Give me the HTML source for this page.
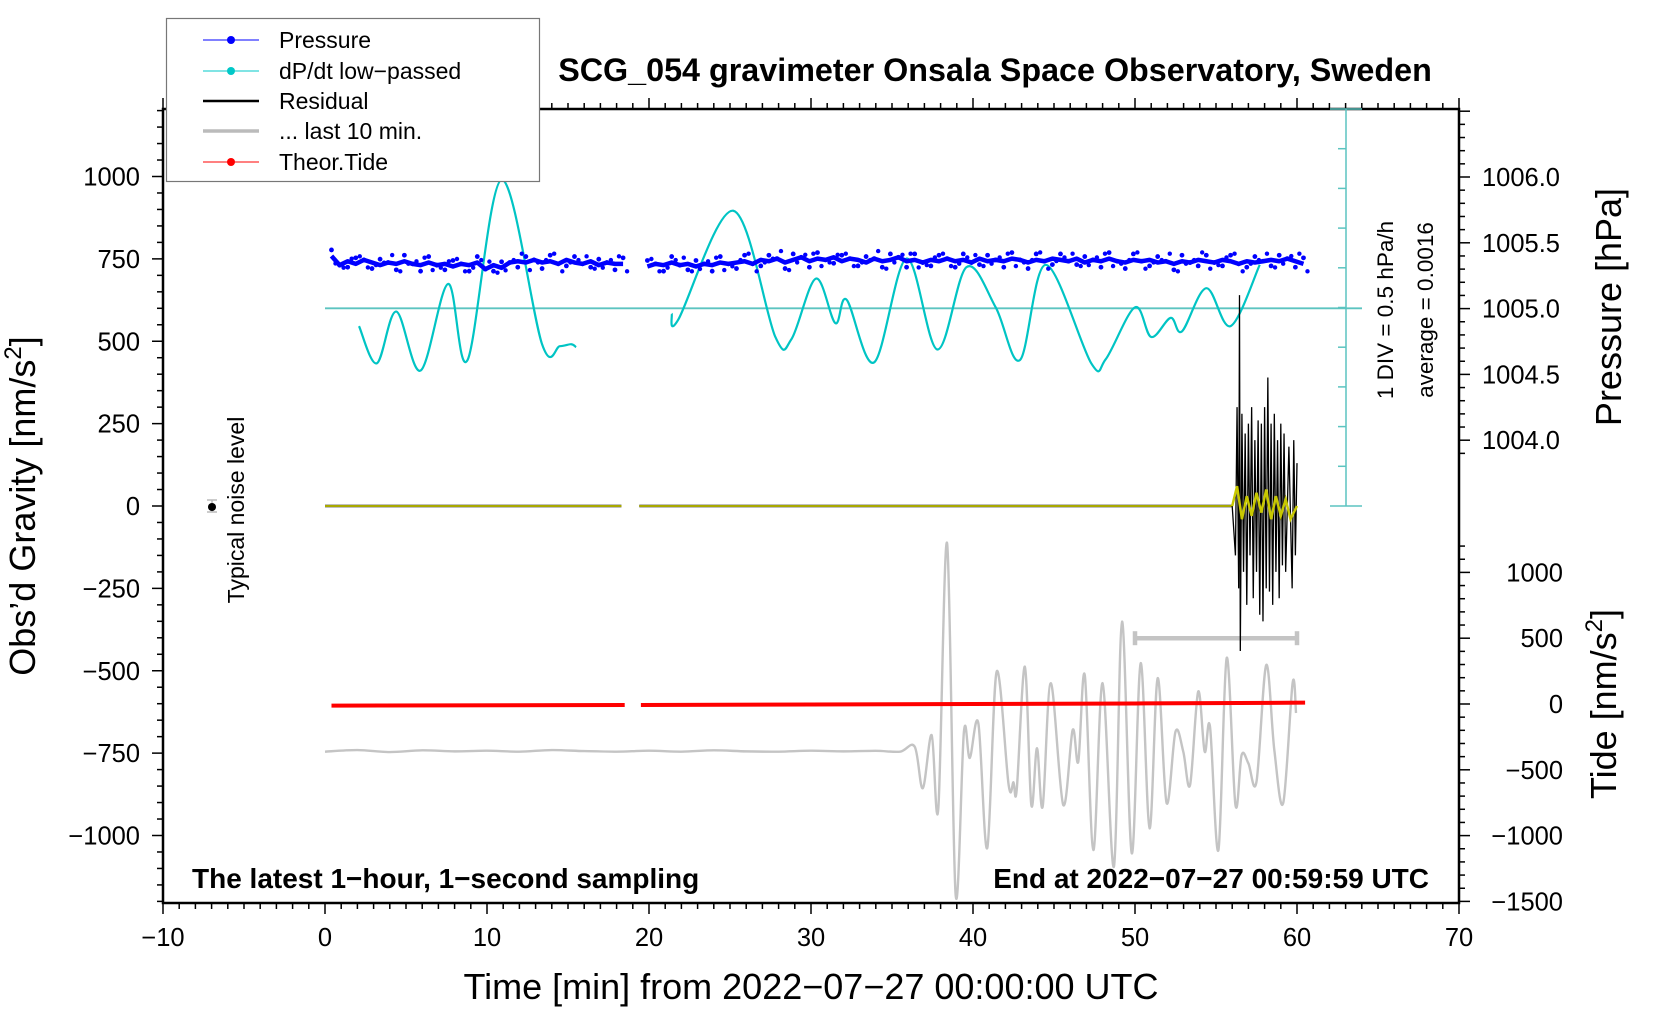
<!DOCTYPE html>
<html><head><meta charset="utf-8"><style>
html,body{margin:0;padding:0;background:#fff;}
svg{display:block;font-family:"Liberation Sans",sans-serif;}
</style></head><body>
<svg id="chart" width="1660" height="1020" viewBox="0 0 1660 1020">
<g id="plot"></g>
<text x="995" y="81" font-size="32.3" font-weight="bold" text-anchor="middle">SCG_054 gravimeter Onsala Space Observatory, Sweden</text>
<text x="192" y="888" font-size="28" font-weight="bold">The latest 1−hour, 1−second sampling</text>
<text x="1429" y="888" font-size="28" font-weight="bold" text-anchor="end">End at 2022−07−27 00:59:59 UTC</text>
<text x="811" y="999" font-size="36" text-anchor="middle">Time [min] from 2022−07−27 00:00:00 UTC</text>
<text transform="translate(35,506) rotate(-90)" font-size="36" text-anchor="middle">Obs’d Gravity [nm/s<tspan dy="-14" font-size="24">2</tspan><tspan dy="14">]</tspan></text>
<text transform="translate(1621,307) rotate(-90)" font-size="36" text-anchor="middle">Pressure [hPa]</text>
<text transform="translate(1616,704) rotate(-90)" font-size="36" text-anchor="middle">Tide [nm/s<tspan dy="-14" font-size="24">2</tspan><tspan dy="14">]</tspan></text>
<text transform="translate(244,510) rotate(-90)" font-size="23" text-anchor="middle">Typical noise level</text>
<text transform="translate(1393,310) rotate(-90)" font-size="22.5" text-anchor="middle">1 DIV = 0.5 hPa/h</text>
<text transform="translate(1433,310) rotate(-90)" font-size="22.5" text-anchor="middle">average = 0.0016</text>
<g>
<rect x="166.5" y="18.5" width="373" height="163" fill="#fff" stroke="#777" stroke-width="1.2"/>
<g><line x1="203" y1="40" x2="259" y2="40" stroke="#00f" stroke-width="1"/><circle cx="231" cy="40" r="4" fill="#00f"/><text x="279" y="48" font-size="23">Pressure</text></g>
<g><line x1="203" y1="71" x2="259" y2="71" stroke="#00c8c8" stroke-width="1"/><circle cx="231" cy="71" r="4" fill="#00c8c8"/><text x="279" y="79" font-size="23">dP/dt low−passed</text></g>
<g><line x1="203" y1="101" x2="259" y2="101" stroke="#000" stroke-width="2.5"/><text x="279" y="109" font-size="23">Residual</text></g>
<g><line x1="203" y1="131" x2="259" y2="131" stroke="#bbb" stroke-width="3.5"/><text x="279" y="139" font-size="23">... last 10 min.</text></g>
<g><line x1="203" y1="162" x2="259" y2="162" stroke="#f00" stroke-width="1"/><circle cx="231" cy="162" r="4" fill="#f00"/><text x="279" y="170" font-size="23">Theor.Tide</text></g>
</g>
</svg>
<script>
// ---- data ----
const xTicks = [-10,0,10,20,30,40,50,60,70];
const gravTicks = [1000,750,500,250,0,-250,-500,-750,-1000];
const pressTicks = [1006.0,1005.5,1005.0,1004.5,1004.0];
const tideTicks = [1000,500,0,-500,-1000,-1500];
// dP/dt low-passed (left units), two segments
const dpT1 = [2.1,3.2,4.4,5.9,7.6,8.8,10.9,13.4,14.5,15.2,15.5];
const dpV1 = [546,433,590,411,674,443,990,491,485,491,482];
const dpT2 = [21.4,21.8,25.2,27.8,28.8,30.3,31.5,32.2,33.9,35.9,37.8,39.6,41.4,42.9,44.5,47.3,48.2,50.0,51.0,52.2,52.9,54.4,55.9,57.7];
const dpV2 = [584,565,896,513,507,690,555,626,436,751,475,725,603,443,732,433,446,603,513,571,530,661,546,732];
// pressure (hPa), sampled every 0.5 min (null = gap)
const pressT = [];
for (let i=0;i<=120;i++) pressT.push(0.4+i*0.5);
const pressV = [1005.40,1005.33,1005.36,1005.34,1005.37,1005.35,1005.33,1005.35,1005.34,1005.36,1005.34,1005.33,1005.35,1005.33,1005.34,1005.32,1005.34,1005.33,1005.35,1005.30,1005.33,1005.31,1005.35,1005.36,1005.35,1005.37,1005.35,1005.36,1005.34,1005.37,1005.35,1005.34,1005.36,1005.33,1005.35,1005.34,1005.34,null,null,1005.32,1005.34,1005.33,1005.35,1005.33,1005.34,1005.32,1005.34,1005.33,1005.35,1005.34,1005.35,1005.36,1005.34,1005.37,1005.36,1005.38,1005.35,1005.37,1005.39,1005.36,1005.38,1005.37,1005.39,1005.36,1005.38,1005.37,1005.35,1005.38,1005.36,1005.37,1005.39,1005.36,1005.37,1005.35,1005.37,1005.36,1005.38,1005.36,1005.37,1005.35,1005.38,1005.36,1005.37,1005.36,1005.38,1005.37,1005.35,1005.37,1005.36,1005.38,1005.37,1005.36,1005.38,1005.35,1005.37,1005.36,1005.38,1005.36,1005.35,1005.37,1005.36,1005.37,1005.35,1005.36,1005.34,1005.36,1005.35,1005.37,1005.36,1005.35,1005.37,1005.36,1005.34,1005.36,1005.35,1005.36,1005.37,1005.36,1005.38,1005.36,1005.34];
// residual burst (left units)
const resT = [56.0,56.2,56.3,56.4,56.45,56.5,56.6,56.7,56.8,56.9,57.0,57.1,57.2,57.3,57.4,57.5,57.6,57.7,57.8,57.9,58.0,58.1,58.2,58.3,58.4,58.5,58.6,58.7,58.8,58.9,59.0,59.1,59.2,59.3,59.5,59.7,59.8,59.9,60.0];
const resV = [0,-150,300,-250,640,-440,280,-200,220,-300,250,-150,300,-280,200,-200,260,-330,250,-350,300,-250,390,-260,250,-300,280,-200,200,-280,250,-180,220,-200,180,-250,200,-150,130];
const resYT = [56.0,56.3,56.6,56.9,57.2,57.5,57.8,58.1,58.4,58.7,59.0,59.3,59.6,60.0];
const resYV = [0,60,-40,30,-30,40,-20,50,-40,30,-30,20,-40,0];
// last 10 min filtered (tide units)
const grayT = [0,2,4,6,8,10,12,14,16,18,20,22,24,26,28,30,32,34,35.5,36.4,36.9,37.45,37.86,38.4,38.93,39.44,39.8,40.33,40.88,41.46,42.2,42.5,42.7,43.2,43.6,43.95,44.3,44.8,45.57,46.15,46.5,46.9,47.43,48.0,48.7,49.2,49.8,50.35,50.9,51.4,51.95,52.5,52.98,53.4,53.9,54.3,54.63,55.15,55.66,56.2,56.58,57.0,57.5,58.1,58.6,59.15,59.73,59.94];
const grayV = [-362,-350,-365,-352,-360,-355,-362,-350,-358,-362,-355,-362,-352,-360,-362,-355,-360,-356,-362,-324,-640,-236,-792,1222,-1452,-210,-410,-146,-1095,246,-615,-595,-650,284,-767,-336,-780,158,-767,-198,-438,220,-1110,158,-1236,626,-1134,310,-945,196,-752,-210,-362,-615,94,-362,-172,-1110,350,-767,-388,-451,-590,296,-350,-752,160,-68];
// theoretical tide (tide units)
const tideT = [0.4,18.5,19.5,30,40,50,60.5];
const tideV = [-12,-8,-8,-4,0,4,10];
const barRange = [50,60]; const barLevel = [500];

// ---- axes ----
const NS="http://www.w3.org/2000/svg";
const X = t => 163 + (t+10)*16.2;
const YL = v => 506 - v*0.3295;
const YP = p => 177 + (1006-p)*131.6;
const YT = v => 704 - v*0.1316;
const plot = document.getElementById('plot');
function mk(tag, attrs, parent){const e=document.createElementNS(NS,tag);for(const k in attrs)e.setAttribute(k,attrs[k]);(parent||plot).appendChild(e);return e;}
function smoothPath(ts, vs, yf){
  const p = ts.map((t,i)=>[X(t), yf(vs[i])]);
  let d = `M${p[0][0]},${p[0][1]}`;
  for(let i=0;i<p.length-1;i++){
    const p0=p[Math.max(i-1,0)],p1=p[i],p2=p[i+1],p3=p[Math.min(i+2,p.length-1)];
    const c1=[p1[0]+(p2[0]-p0[0])/6, p1[1]+(p2[1]-p0[1])/6];
    const c2=[p2[0]-(p3[0]-p1[0])/6, p2[1]-(p3[1]-p1[1])/6];
    d+=` C${c1[0]},${c1[1]} ${c2[0]},${c2[1]} ${p2[0]},${p2[1]}`;
  }
  return d;
}
function linePath(ts, vs, yf){return ts.map((t,i)=>(i?'L':'M')+X(t)+','+yf(vs[i])).join(' ');}

let e;
e=mk('rect',{x:163,y:109,width:1296,height:794,fill:'none',stroke:'#000','stroke-width':2.5});
 
for(let t=-10;t<=70;t++){
  const maj = t%10===0, L = maj?11:6;
  mk('line',{x1:X(t),x2:X(t),y1:903,y2:903+L,stroke:'#000','stroke-width':1.5});
  mk('line',{x1:X(t),x2:X(t),y1:109,y2:109-L,stroke:'#000','stroke-width':1.5});
}
xTicks.forEach(t=>{
  e=mk('text',{x:X(t),y:946,'font-size':25.5,'text-anchor':'middle'}); e.textContent=(t<0?'−'+(-t):t);
   
});
for(let v=-1200;v<=1200;v+=50){
  const maj=v%250===0; mk('line',{x1:163,x2:163-(maj?11:6),y1:YL(v),y2:YL(v),stroke:'#000','stroke-width':1.5});
}
gravTicks.forEach(v=>{
  e=mk('text',{x:140,y:YL(v)+9,'font-size':25.5,'text-anchor':'end'}); e.textContent=(v<0?'−'+(-v):v);
   
});
for(let i=0;i<=26;i++){const p=1006.5-i*0.1; const maj=Math.abs(p*2-Math.round(p*2))<1e-6;
  mk('line',{x1:1459,x2:1459+(maj?11:6),y1:YP(p),y2:YP(p),stroke:'#000','stroke-width':1.5});}
pressTicks.forEach(p=>{
  e=mk('text',{x:1482,y:YP(p)+9,'font-size':25.5}); e.textContent=p.toFixed(1);
   
});
for(let v=-1500;v<=1200;v+=100){const maj=v%500===0;
  mk('line',{x1:1459,x2:1459+(maj?11:6),y1:YT(v),y2:YT(v),stroke:'#000','stroke-width':1.5});}
tideTicks.forEach(v=>{
  e=mk('text',{x:1563,y:YT(v)+9,'font-size':25.5,'text-anchor':'end'}); e.textContent=(v<0?'−'+(-v):v);
   
});
const sx=1346;
mk('line',{x1:sx,x2:sx,y1:109,y2:506,stroke:'#5cc4c0','stroke-width':1.5});
mk('line',{x1:sx-16,x2:sx+16,y1:109,y2:109,stroke:'#5cc4c0','stroke-width':1.5});
mk('line',{x1:sx-16,x2:sx+16,y1:506,y2:506,stroke:'#5cc4c0','stroke-width':1.5});
for(let i=1;i<10;i++){const y=109+i*39.7; mk('line',{x1:sx,x2:sx-8,y1:y,y2:y,stroke:'#5cc4c0','stroke-width':1.5});}
e=mk('line',{x1:X(0),x2:sx+16,y1:YL(600),y2:YL(600),stroke:'#5cc4c0','stroke-width':1.8});
 

e=mk('path',{d:smoothPath(grayT,grayV,YT),fill:'none',stroke:'#c4c4c4','stroke-width':2.4});
 
e=mk('g',{stroke:'#c4c4c4','stroke-width':4.5});
 
mk('line',{x1:X(barRange[0]),x2:X(barRange[1]),y1:YT(barLevel[0]),y2:YT(barLevel[0])},e);
mk('line',{x1:X(barRange[0]),x2:X(barRange[0]),y1:YT(barLevel[0])-7,y2:YT(barLevel[0])+7},e);
mk('line',{x1:X(barRange[1]),x2:X(barRange[1]),y1:YT(barLevel[0])-7,y2:YT(barLevel[0])+7},e);
e=mk('path',{d:linePath(tideT.slice(0,2),tideV.slice(0,2),YT)+' '+linePath(tideT.slice(2),tideV.slice(2),YT),fill:'none',stroke:'#f00','stroke-width':4});
 
e=mk('path',{d:smoothPath(dpT1,dpV1,YL)+' '+smoothPath(dpT2,dpV2,YL),fill:'none',stroke:'#00c4c4','stroke-width':2.2});
 
const pg=mk('g',{fill:'#00f'});  
let seg=[];
const flush=()=>{ if(seg.length>1){ mk('path',{d:seg.map((q,i)=>(i?'L':'M')+q[0]+','+q[1]).join(' '),fill:'none',stroke:'#00f','stroke-width':4.5,'stroke-linejoin':'round'},pg);} seg=[]; };
pressT.forEach((t,i)=>{const v=pressV[i]; if(v===null){flush();return;}
  seg.push([X(t),YP(v)]);
  mk('circle',{cx:X(t),cy:YP(v)+((i%3)-1)*6,r:2.4},pg);
  mk('circle',{cx:X(t)+4,cy:YP(v)-((i%4)-1.5)*5,r:2.2},pg);
});
flush();
e=mk('g',{});
 
mk('line',{x1:X(0),x2:X(18.3),y1:YL(0),y2:YL(0),stroke:'#000','stroke-width':2.5},e);
mk('line',{x1:X(19.4),x2:X(56),y1:YL(0),y2:YL(0),stroke:'#000','stroke-width':2.5},e);
mk('line',{x1:X(0),x2:X(18.3),y1:YL(0),y2:YL(0),stroke:'#e0e000','stroke-width':1.5},e);
mk('line',{x1:X(19.4),x2:X(56),y1:YL(0),y2:YL(0),stroke:'#e0e000','stroke-width':1.5},e);
mk('path',{d:linePath(resT,resV,YL),fill:'none',stroke:'#000','stroke-width':1.3},e);
mk('path',{d:linePath(resYT,resYV,YL),fill:'none',stroke:'#c8c800','stroke-width':2.5},e);
e=mk('g',{});  
mk('line',{x1:207,x2:217,y1:500,y2:500,stroke:'#bbb','stroke-width':1.5},e);
mk('line',{x1:207,x2:217,y1:512,y2:512,stroke:'#bbb','stroke-width':1.5},e);
mk('line',{x1:212,x2:212,y1:500,y2:512,stroke:'#bbb','stroke-width':1.5},e);
mk('circle',{cx:212,cy:507,r:4,fill:'#000'},e);
</script>
</body></html>
